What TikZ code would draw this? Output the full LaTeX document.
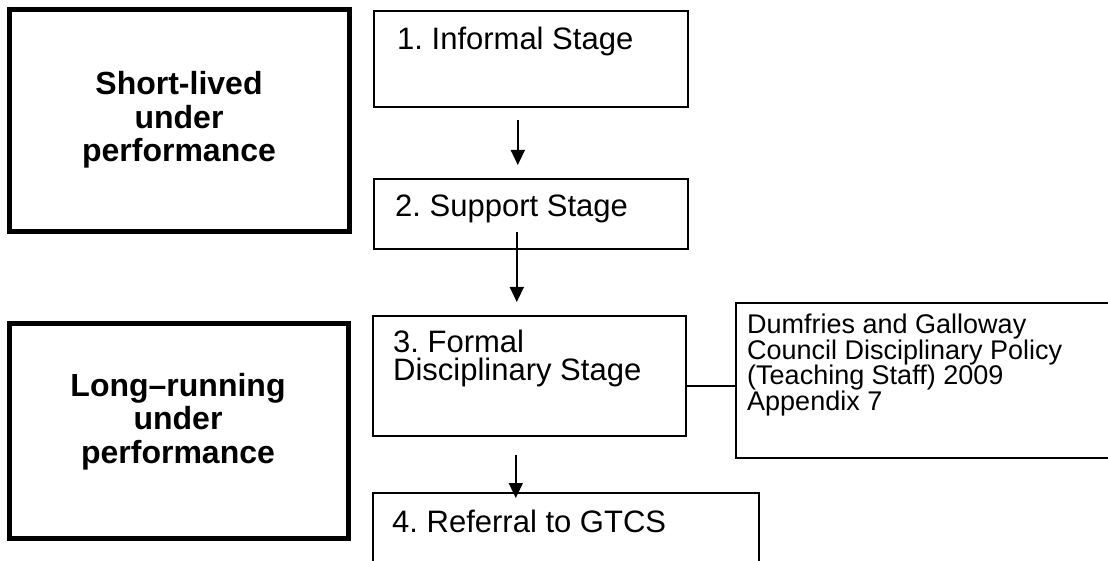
\documentclass[tikz,border=0pt]{standalone}
\usepackage{fontspec}
\setmainfont{Liberation Sans}
\frenchspacing
\usetikzlibrary{arrows.meta,calc}
\tikzset{
  thickbox/.style={draw, line width=5pt, inner sep=0pt},
  boldtext/.style={inner sep=0pt, anchor=base, align=center,
    font=\bfseries\fontsize{32}{33.5}\selectfont},
  stagebox/.style={draw, line width=1.6pt, inner sep=0pt, anchor=north west},
  stagetext/.style={inner sep=0pt, anchor=base west, align=left,
    font=\fontsize{31}{28}\selectfont},
  notetext/.style={inner sep=0pt, anchor=base west, align=left,
    font=\fontsize{27}{25.5}\selectfont},
  arr/.style={line width=1.5pt, -{Triangle[width=14pt,length=15pt]}},
  link/.style={line width=1.5pt}
}
\begin{document}
\begin{tikzpicture}[x=1pt,y=-1pt]
\useasboundingbox (0,0) rectangle (1108,561);
\clip (0,0) rectangle (1108,561);
\fill[white] (0,0) rectangle (1108,561);
% left boxes
\node[thickbox, minimum width=340pt, minimum height=222pt] (short) at (179.5,121) {};
\node[thickbox, minimum width=338.5pt, minimum height=214.5pt] (long) at (178.75,430.75) {};
\node[boldtext] (tshort) at (179,162) {Short-lived\\under\\performance};
\node[boldtext] (tlong) at (178,463) {Long--running\\under\\performance};
% stage boxes
\node[stagebox, minimum width=314pt, minimum height=96pt] (s1) at (373,10) {};
\node[stagebox, minimum width=314pt, minimum height=70pt] (s2) at (373,178) {};
\node[stagebox, minimum width=313pt, minimum height=120pt] (s3) at (372,315) {};
\node[stagebox, minimum width=386pt, minimum height=120pt] (s4) at (372,492) {};
\node[stagebox, minimum width=420pt, minimum height=155pt] (dg) at (735,302) {};
% texts
\node[stagetext] (t1) at (397,50) {1. Informal Stage};
\node[stagetext] (t2) at (395,217) {2. Support Stage};
\node[stagetext] (t3) at (393,380) {3. Formal\\Disciplinary Stage};
\node[stagetext] (t4) at (392,532) {4. Referral to GTCS};
\node[notetext] (tdg) at (747,410) {Dumfries and Galloway\\Council Disciplinary Policy\\(Teaching Staff) 2009\\Appendix 7};
% connectors
\draw[arr] ([xshift=-13pt,yshift=-12pt]s1.south) -- ([xshift=-13pt,yshift=13pt]s2.north);
\draw[arr] ([xshift=-14pt,yshift=18pt]s2.south) -- ([xshift=-12.5pt,yshift=13pt]s3.north);
\draw[arr] ([xshift=-13.5pt,yshift=-18pt]s3.south) -- ([xshift=-50pt,yshift=-6pt]s4.north);
\draw[link] ([yshift=-10pt]s3.east) -- ([yshift=-10pt]s3.east -| dg.west);
\end{tikzpicture}
\end{document}
